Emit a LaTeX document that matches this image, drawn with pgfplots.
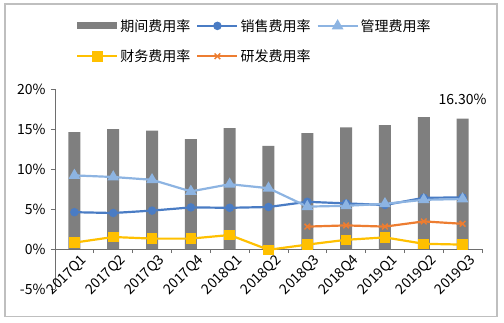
\documentclass[border=0pt]{standalone}
\usepackage{pgfplots}
\pgfplotsset{compat=1.18}
\usepackage{fontspec}
\setmainfont{Noto Sans CJK SC}
\definecolor{barGray}{HTML}{7F7F7F}
\definecolor{salesBlue}{HTML}{4A7CC4}
\definecolor{mgmtBlue}{HTML}{8DB4E2}
\definecolor{finYellow}{HTML}{FFC000}
\definecolor{rdOrange}{HTML}{ED7D31}
\definecolor{axisGray}{HTML}{6E6E6E}
\definecolor{frameGray}{HTML}{BFBFBF}
\begin{document}
\begin{tikzpicture}
\useasboundingbox (-55pt,-33pt) rectangle (449pt,289pt);
\draw[frameGray, line width=1.2pt] (-50pt,-27.5pt) rectangle (442pt,285pt);
\begin{axis}[
  at={(0pt,0pt)}, anchor=south west,
  scale only axis, width=427pt, height=200pt,
  xmin=-0.5, xmax=10.5, ymin=-5, ymax=20,
  axis x line*=middle, axis y line*=left,
  axis line style={draw=axisGray, line width=0.8pt, -},
  hide obscured x ticks=false, hide obscured y ticks=false,
  xtick={0,...,10},
  xticklabels={2017Q1,2017Q2,2017Q3,2017Q4,2018Q1,2018Q2,2018Q3,2018Q4,2019Q1,2019Q2,2019Q3},
  minor xtick={-0.5,0.5,...,10.5},
  major x tick style={draw=none},
  minor x tick style={draw=axisGray, line width=0.8pt},
  ytick={-5,0,5,10,15,20},
  y tick style={draw=axisGray, line width=0.8pt},
  tick align=outside, major tick length=4pt, minor tick length=4pt,
  /pgf/number format/assume math mode=true,
  yticklabel={\pgfmathprintnumber{\tick}\%},
  tick label style={font=\fontsize{14}{16}\selectfont, text=black},
  yticklabel style={xshift=-2pt},
  xticklabel style={rotate=45, anchor=north east, inner sep=1pt, xshift=5pt, yshift=-3pt},
  legend columns=3,
  legend style={at={(0.049,1.355)}, anchor=north west, draw=none, fill=none,
    font=\fontsize{14}{16}\selectfont, inner sep=0pt, row sep=15pt,
    nodes={inner xsep=2pt, inner ysep=1pt},
    /tikz/every even column/.append style={column sep=4pt}},
  legend image code/.code={\draw[mark repeat=2,mark phase=2,#1] plot coordinates {(0pt,0pt) (20pt,0pt) (40pt,0pt)};},
  clip=false,
]
\addplot[ybar, bar width=12pt, fill=barGray, draw=none,
  legend image code/.code={\fill[barGray] (0pt,-3.5pt) rectangle (40pt,3.5pt);}]
  coordinates {(0,14.6) (1,15.0) (2,14.8) (3,13.75) (4,15.1) (5,12.9) (6,14.5) (7,15.2) (8,15.5) (9,16.5) (10,16.3)};
\addlegendentry{期间费用率}
\addplot[salesBlue, line width=2.2pt, mark=*, mark size=3.1pt]
  coordinates {(0,4.6) (1,4.5) (2,4.8) (3,5.2) (4,5.15) (5,5.25) (6,5.9) (7,5.7) (8,5.5) (9,6.4) (10,6.45)};
\addlegendentry{销售费用率}
\addplot[mgmtBlue, line width=2.2pt, mark=triangle*, mark size=4.6pt]
  coordinates {(0,9.2) (1,9.0) (2,8.65) (3,7.2) (4,8.1) (5,7.6) (6,5.3) (7,5.4) (8,5.65) (9,6.15) (10,6.25)};
\addlegendentry{管理费用率}
\addplot[finYellow, line width=2.2pt, mark=square*, mark size=4.2pt]
  coordinates {(0,0.8) (1,1.5) (2,1.3) (3,1.3) (4,1.75) (5,-0.1) (6,0.55) (7,1.15) (8,1.45) (9,0.65) (10,0.55)};
\addlegendentry{财务费用率}
\addplot[rdOrange, line width=2.2pt, mark=x, mark size=4pt, mark options={line width=1.5pt}]
  coordinates {(6,2.8) (7,2.95) (8,2.8) (9,3.45) (10,3.15)};
\addlegendentry{研发费用率}
\node[font=\fontsize{14}{16}\selectfont] at (axis cs:10,18.75) {16.30\%};
\end{axis}
\end{tikzpicture}
\end{document}
